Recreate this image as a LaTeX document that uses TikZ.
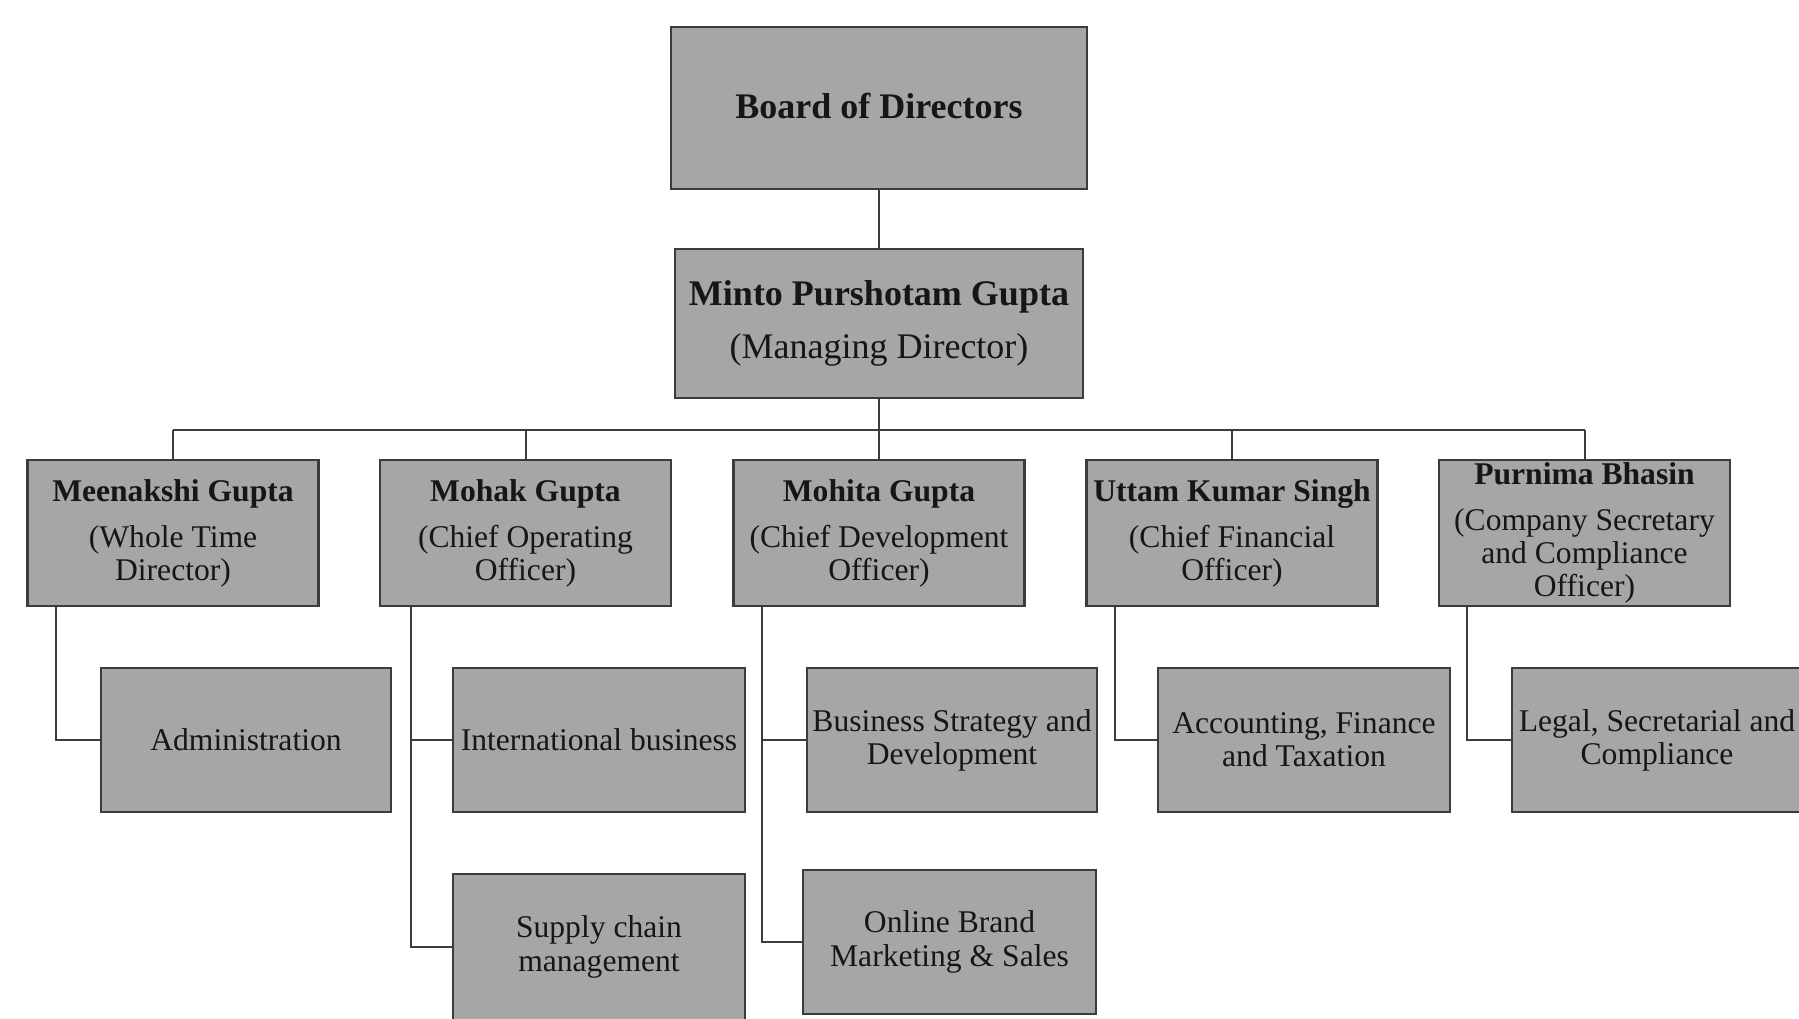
\documentclass[tikz,border=0pt]{standalone}
\usepackage{fontspec}
\setmainfont{Liberation Serif}
\definecolor{boxfill}{HTML}{A6A6A6}
\definecolor{boxline}{HTML}{3C3C3C}
\definecolor{txt}{HTML}{161616}
\tikzset{
  orgbox/.style={draw=boxline, fill=boxfill, line width=1.2pt, inner sep=0pt,
    align=center, text=txt, font=\fontsize{15.8}{16.6}\selectfont},
  topbox/.style={orgbox, font=\fontsize{18}{20}\selectfont},
  rowone/.style={orgbox, minimum width=145.5pt, minimum height=73pt},
  rowtwo/.style={orgbox, minimum width=146pt, minimum height=72pt},
  conn/.style={draw=boxline, line width=1pt}
}
\begin{document}
\begin{tikzpicture}[x=0.5pt,y=-0.5pt]
\useasboundingbox (0,0) rectangle (1799,1018);
\fill[white] (0,0) rectangle (1799,1018);
\clip (0,0) rectangle (1799,1018);

% top
\node[topbox, minimum width=208pt, minimum height=80.75pt] (board) at (879,108) {\raisebox{2pt}{\textbf{Board of Directors}}};
\node[topbox, minimum width=204pt, minimum height=74.5pt] (minto) at (879,323.5) {\textbf{Minto Purshotam Gupta}\\[6.4pt](Managing Director)};

% row 1
\node[rowone] (meen) at (173,533) {\textbf{Meenakshi Gupta}\\[6.4pt](Whole Time\\Director)};
\node[rowone] (mohak) at (525.5,533) {\textbf{Mohak Gupta}\\[6.4pt](Chief Operating\\Officer)};
\node[rowone] (mohita) at (879,533) {\textbf{Mohita Gupta}\\[6.4pt](Chief Development\\Officer)};
\node[rowone] (uttam) at (1232,533) {\textbf{Uttam Kumar Singh}\\[6.4pt](Chief Financial\\Officer)};
\node[rowone] (purnima) at (1584.5,533) {\textbf{Purnima Bhasin}\\[6.4pt](Company Secretary\\and Compliance\\Officer)};

% row 2
\node[rowtwo, minimum width=145pt] (admin) at (246,740) {Administration};
\node[rowtwo] (intl) at (599,740) {International business};
\node[rowtwo, minimum width=145pt] (bsd) at (952,740) {Business Strategy and\\Development};
\node[rowtwo] (acct) at (1304,740) {Accounting, Finance\\and Taxation};
\node[rowtwo, minimum width=145pt] (legal) at (1657,740) {Legal, Secretarial and\\Compliance};

% row 3
\node[rowtwo, minimum height=73pt] (supply) at (599,947) {Supply chain\\management};
\node[rowtwo, minimum width=146.5pt] (online) at (949.5,942) {Online Brand\\Marketing \& Sales};

% connectors
\coordinate (busL) at (173,430);
\coordinate (busR) at (1584.5,430);
\coordinate (t1) at (56,0);
\coordinate (t2) at (411,0);
\coordinate (t3) at (762,0);
\coordinate (t4) at (1115,0);
\coordinate (t5) at (1467,0);

\draw[conn] (board.south) -- (minto.north);
\draw[conn] (minto.south) -- (mohita.north);
\draw[conn] (busL) -- (busR);
\draw[conn] (meen.north) -- (meen.north |- busL);
\draw[conn] (mohak.north) -- (mohak.north |- busL);
\draw[conn] (uttam.north) -- (uttam.north |- busL);
\draw[conn] (purnima.north) -- (purnima.north |- busL);

\draw[conn] (meen.south -| t1) |- (admin.west);
\draw[conn] (mohak.south -| t2) |- (supply.west);
\draw[conn] (t2 |- intl.west) -- (intl.west);
\draw[conn] (mohita.south -| t3) |- (online.west);
\draw[conn] (t3 |- bsd.west) -- (bsd.west);
\draw[conn] (uttam.south -| t4) |- (acct.west);
\draw[conn] (purnima.south -| t5) |- (legal.west);
\end{tikzpicture}
\end{document}
